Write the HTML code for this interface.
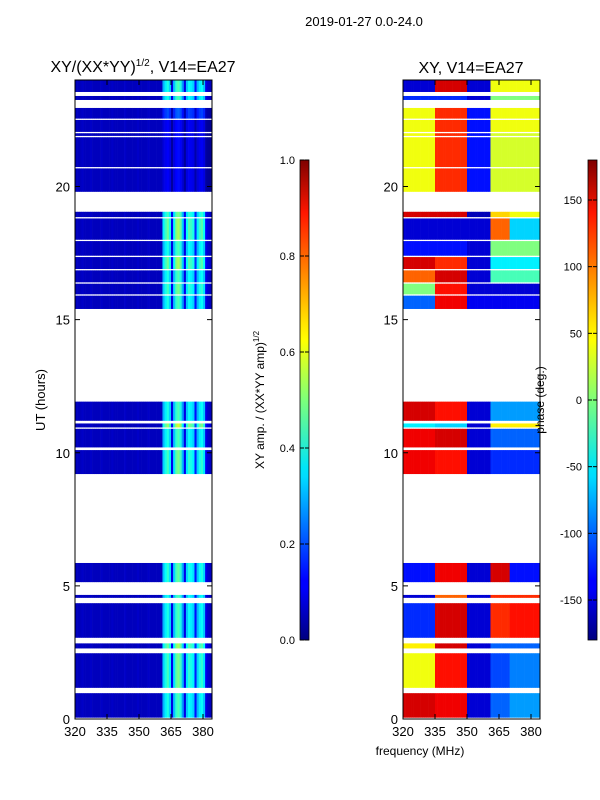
<!DOCTYPE html>
<html><head><meta charset="utf-8"><style>
body{margin:0;background:#fff}
svg{display:block;font-family:"Liberation Sans",sans-serif}
</style></head><body>
<svg id="fig" width="600" height="800">
<defs>
<linearGradient id="jetv" x1="0" y1="1" x2="0" y2="0">
<stop offset="0" stop-color="#00007f"/><stop offset="0.11" stop-color="#0000ff"/><stop offset="0.125" stop-color="#0000ff"/>
<stop offset="0.34" stop-color="#00dcff"/><stop offset="0.36" stop-color="#00e5f7"/><stop offset="0.5" stop-color="#7dff7a"/>
<stop offset="0.625" stop-color="#ffff00"/><stop offset="0.66" stop-color="#ffe500"/><stop offset="0.89" stop-color="#ff1600"/>
<stop offset="1" stop-color="#7f0000"/></linearGradient>
</defs>
<text x="364" y="26" font-size="13" text-anchor="middle">2019-01-27 0.0-24.0</text>
<g id="left"></g>
<g id="right"></g>
<text x="143" y="72" font-size="16" text-anchor="middle">XY/(XX*YY)<tspan font-size="10" dy="-6">1/2</tspan><tspan dy="6">, V14=EA27</tspan></text>
<text x="471" y="73" font-size="16" text-anchor="middle">XY, V14=EA27</text>
<text transform="translate(45,400) rotate(-90)" font-size="13" text-anchor="middle">UT (hours)</text>
<text x="420" y="755" font-size="12" text-anchor="middle">frequency (MHz)</text>
<g>
<rect x="300" y="160" width="9" height="480" fill="url(#jetv)" stroke="#000" stroke-width="0.8"/>
</g>
<g>
<rect x="588" y="160" width="9" height="480" fill="url(#jetv)" stroke="#000" stroke-width="0.8"/>
</g>
<text transform="translate(264,400) rotate(-90)" font-size="12" text-anchor="middle">XY amp. / (XX*YY amp)<tspan font-size="8" dy="-5">1/2</tspan></text>
<text transform="translate(544,400) rotate(-90)" font-size="12" text-anchor="middle">phase (deg.)</text>
<g id="cbt"></g>
</svg>
<script>
const yTicks=[0,5,10,15,20];
const xTicks=[320,335,350,365,380];
const ampTicks=[0.0,0.2,0.4,0.6,0.8,1.0];
const phaseTicks=[-150,-100,-50,0,50,100,150];
// channel amplitude profile 320..383 MHz
const colAmp=[0.06,0.06,0.06,0.07,0.06,0.06,0.06,0.07,0.06,0.06,0.06,0.06,0.07,0.06,0.06,0.06,0.06,0.07,0.06,0.06,
0.06,0.06,0.06,0.07,0.06,0.06,0.06,0.06,0.06,0.07,0.06,0.06,0.06,0.06,0.07,0.06,0.06,0.06,0.06,0.06,0.06,
0.3,0.36,0.4,0.33,0.1,0.32,0.42,0.45,0.4,0.28,0.1,0.32,0.38,0.36,0.33,0.14,0.3,0.36,0.38,0.32,0.1,0.07,0.06];
// data blocks [start hour, end hour]
const blockStart=[23.55,23.25,22.55,22.05,21.9,20.73,19.8,18.85,18.0,17.4,16.9,16.4,15.95,15.4,11.2,10.95,10.2,9.2,5.14,4.55,3.05,2.65,1.17,0.05];
const blockEnd=[24.0,23.4,22.95,22.5,22.0,21.85,20.68,19.05,18.8,17.95,17.35,16.85,16.35,15.9,11.92,11.1,10.9,10.1,5.86,4.66,4.35,2.84,2.47,0.97];
const blockGain=[1,1,0.5,0.3,0.3,0.3,0.3,1.1,1.2,1,1.2,1,1.1,1,1,1.3,1,1.1,1.05,1,1,1.2,1.1,1];
// phase per band: 320-335,335-350,350-361,361-370,370-384
const phBand1=[-150,-120,40,40,40,40,40,150,-150,-130,150,100,0,-100,150,-50,140,140,-130,-150,-120,50,40,150];
const phBand2=[150,-120,120,120,120,120,120,150,-150,-130,120,150,130,140,130,-60,150,130,140,100,150,150,130,140];
const phBand3=[-150,-150,-130,-130,-130,-130,-130,-160,-150,-150,-150,-150,-150,-140,-150,-150,-150,-150,-150,-150,-150,-150,-150,-150];
const phBand4=[40,0,40,40,30,30,30,60,100,0,-50,-20,-150,-140,-80,50,-100,-120,150,120,120,-100,-110,-100];
const phBand5=[40,0,40,40,30,30,30,40,-60,0,-50,-20,-150,-140,-80,50,-100,-120,-130,120,130,-100,-90,-80];

const NS='http://www.w3.org/2000/svg';
function jet(v){v=Math.max(0,Math.min(1,v));
 const r=Math.max(0,Math.min(1,Math.min(4*v-1.5,-4*v+4.5)));
 const g=Math.max(0,Math.min(1,Math.min(4*v-0.5,-4*v+3.5)));
 const b=Math.max(0,Math.min(1,Math.min(4*v+0.5,-4*v+2.5)));
 return `rgb(${Math.round(r*255)},${Math.round(g*255)},${Math.round(b*255)})`;}
const Y0=719,Y1=80;
function yS(h){return Y0-(h/24)*(Y0-Y1);}
function xS(f,x0){return x0+(f-320)*32/15;}
function mk(tag,at,parent){const e=document.createElementNS(NS,tag);for(const k in at)e.setAttribute(k,at[k]);parent.appendChild(e);return e;}
function panel(g,x0,isPhase){
 for(let b=0;b<blockStart.length;b++){
  for(let c=0;c<colAmp.length;c++){
   const f=320+c;let v;
   if(isPhase){const p=f<335?phBand1[b]:f<350?phBand2[b]:f<361?phBand3[b]:f<370?phBand4[b]:phBand5[b];v=(p+180)/360;}
   else v=f<361?colAmp[c]:colAmp[c]*blockGain[b];
   const r=mk('rect',{x:xS(f,x0).toFixed(2),y:yS(blockEnd[b]).toFixed(2),width:(32/15+0.3).toFixed(2),height:(yS(blockStart[b])-yS(blockEnd[b])).toFixed(2),fill:jet(v)},g);
   
   
  }
 }
 mk('rect',{x:x0,y:Y1,width:137,height:Y0-Y1,fill:'none',stroke:'#000','stroke-width':1},g);
 yTicks.forEach(t=>{const y=yS(t);
  mk('line',{x1:x0,x2:x0+5,y1:y,y2:y,stroke:'#000'},g);mk('line',{x1:x0+137,x2:x0+132,y1:y,y2:y,stroke:'#000'},g);
  const tx=mk('text',{x:x0-5,y:y+5,'font-size':13,'text-anchor':'end'},g);tx.textContent=t;
  
  });
 xTicks.forEach(t=>{const x=xS(t,x0);
  mk('line',{x1:x,x2:x,y1:Y0,y2:Y0-5,stroke:'#000'},g);mk('line',{x1:x,x2:x,y1:Y1,y2:Y1+5,stroke:'#000'},g);
  const tx=mk('text',{x:x,y:Y0+17,'font-size':13,'text-anchor':'middle'},g);tx.textContent=t;
  
  });
}
panel(document.getElementById('left'),75,false);
panel(document.getElementById('right'),403,true);
const cb=document.getElementById('cbt');
ampTicks.forEach(t=>{const y=640-t*480;
 mk('line',{x1:300,x2:304,y1:y,y2:y,stroke:'#000'},cb);mk('line',{x1:309,x2:305,y1:y,y2:y,stroke:'#000'},cb);
 const tx=mk('text',{x:295,y:y+4,'font-size':11,'text-anchor':'end'},cb);tx.textContent=t.toFixed(1);
 
 });
phaseTicks.forEach(t=>{const y=400-t*480/360;
 mk('line',{x1:588,x2:592,y1:y,y2:y,stroke:'#000'},cb);mk('line',{x1:597,x2:593,y1:y,y2:y,stroke:'#000'},cb);
 const tx=mk('text',{x:582,y:y+4,'font-size':11,'text-anchor':'end'},cb);tx.textContent=t;
 
 });
</script>
</body></html>
